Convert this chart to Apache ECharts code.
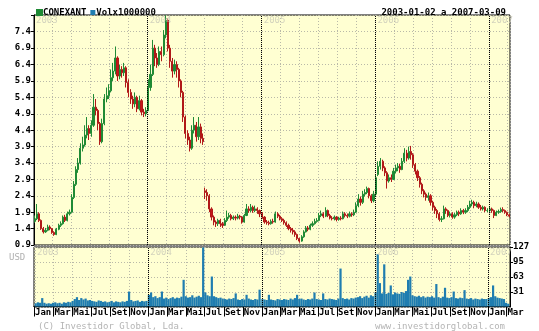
<!DOCTYPE html>
<html><head><meta charset="utf-8">
<script src="https://cdn.jsdelivr.net/npm/echarts@6/dist/echarts.min.js"></script>
<style>html,body{margin:0;padding:0;background:#fff}#c{width:539px;height:331px}</style>
</head><body><div id="c"></div>
<script>
const years = [2003, 2004, 2005, 2006, 2007];
const yearLabels = ['2003', '2004', '2005', '2006', '2007'];
const monthNames = ['Jan','Fev','Mar','Abr','Mai','Jun','Jul','Ago','Set','Out','Nov','Dez'];

// weekly [open, close, low, high]
const price2003 = [
[1.62,1.70,1.58,1.80],[1.70,1.85,1.66,2.15],[1.85,1.65,1.60,1.90],[1.65,1.40,1.36,1.68],
[1.40,1.30,1.25,1.45],[1.30,1.35,1.27,1.42],[1.35,1.45,1.32,1.52],[1.45,1.40,1.35,1.50],
[1.40,1.28,1.24,1.42],[1.28,1.22,1.18,1.32],[1.22,1.38,1.20,1.42],[1.38,1.50,1.35,1.55],
[1.50,1.55,1.45,1.62],[1.55,1.75,1.52,1.80],[1.75,1.65,1.60,1.82],[1.65,1.85,1.62,1.92],
[1.85,1.90,1.80,1.98],[1.90,2.35,1.88,2.45],[2.35,2.75,2.30,2.85],[2.75,3.20,2.70,3.30],
[3.20,3.40,3.10,3.55],[3.40,3.85,3.35,4.00],[3.85,3.95,3.75,4.20],[3.95,4.25,3.90,4.55],
[4.25,4.45,4.15,4.80],[4.45,4.30,4.10,4.55],[4.30,4.55,4.20,4.70],[4.55,5.10,4.50,5.50],
[5.10,5.00,4.85,5.35],[5.00,4.60,4.40,5.05],[4.60,4.05,3.95,4.65],[4.05,4.60,4.00,4.75],
[4.60,5.35,4.55,5.50],[5.35,5.45,5.25,5.70],[5.45,5.60,5.35,5.80],[5.60,6.00,5.55,6.25],
[6.00,6.20,5.90,6.45],[6.20,6.60,6.10,6.95],[6.60,6.05,5.90,6.65],[6.05,6.25,5.95,6.40],
[6.25,6.15,6.00,6.35],[6.15,6.30,6.05,6.45],[6.30,5.85,5.70,6.35],[5.85,5.55,5.40,5.95],
[5.55,5.35,5.20,5.65],[5.35,5.20,5.05,5.45],[5.20,5.40,5.10,5.55],[5.40,5.05,4.95,5.45],
[5.05,5.30,5.00,5.45],[5.30,4.95,4.85,5.35],[4.95,4.90,4.80,5.05],[4.90,5.00,4.82,5.10]
];
const price2004 = [
[5.00,5.70,4.98,5.95],[5.70,6.10,5.60,6.40],[6.10,6.90,6.05,7.15],[6.90,6.60,6.35,7.00],
[6.60,6.40,6.30,6.75],[6.40,6.80,6.35,6.95],[6.80,6.70,6.50,6.95],[6.70,7.30,6.65,7.45],
[7.30,7.75,7.20,7.90],[7.75,6.90,6.80,7.80],[6.90,6.50,6.30,7.00],[6.50,6.20,6.00,6.60],
[6.20,6.40,6.10,6.55],[6.40,6.25,6.00,6.50],[6.25,5.90,5.70,6.30],[5.90,5.55,5.40,5.95],
[5.55,4.80,4.65,5.60],[4.80,4.30,4.15,4.85],[4.30,4.10,3.95,4.40],[4.10,3.85,3.75,4.20],
[3.85,4.40,3.80,4.55],[4.40,4.55,4.30,4.80],[4.55,4.20,4.05,4.65],[4.20,4.50,4.10,4.80],
[4.50,4.15,4.00,4.60],[4.15,4.05,3.95,4.30],[2.55,2.50,2.30,2.65],[2.50,2.40,2.25,2.60],
[2.40,2.00,1.90,2.45],[2.00,1.75,1.65,2.05],[1.75,1.60,1.50,1.80],[1.60,1.55,1.45,1.65],
[1.55,1.65,1.48,1.70],[1.65,1.55,1.45,1.70],[1.55,1.50,1.42,1.60],[1.50,1.65,1.48,1.72],
[1.65,1.75,1.60,1.95],[1.75,1.80,1.70,1.88],[1.80,1.70,1.65,1.85],[1.70,1.75,1.66,1.80],
[1.75,1.72,1.65,1.80],[1.72,1.78,1.68,1.85],[1.78,1.75,1.68,1.82],[1.75,1.60,1.55,1.78],
[1.60,1.80,1.58,1.85],[1.80,2.00,1.78,2.15],[2.00,1.95,1.88,2.08],[1.95,2.05,1.90,2.15],
[2.05,1.95,1.88,2.10],[1.95,2.00,1.90,2.10],[2.00,1.95,1.85,2.05],[1.95,1.85,1.75,1.98]
];
const price2005 = [
[1.85,1.75,1.70,1.90],[1.75,1.60,1.55,1.78],[1.60,1.58,1.52,1.66],[1.58,1.55,1.50,1.64],
[1.55,1.62,1.52,1.68],[1.62,1.60,1.55,1.70],[1.60,1.85,1.58,1.92],[1.85,1.78,1.72,1.90],
[1.78,1.70,1.65,1.82],[1.70,1.65,1.60,1.75],[1.65,1.58,1.52,1.70],[1.58,1.50,1.45,1.62],
[1.50,1.40,1.35,1.55],[1.40,1.35,1.28,1.45],[1.35,1.30,1.22,1.42],[1.30,1.22,1.15,1.35],
[1.22,1.10,1.05,1.25],[1.10,1.02,0.97,1.12],[1.02,1.15,1.00,1.20],[1.15,1.30,1.12,1.35],
[1.30,1.42,1.28,1.48],[1.42,1.38,1.32,1.48],[1.38,1.50,1.35,1.55],[1.50,1.55,1.45,1.62],
[1.55,1.62,1.52,1.70],[1.62,1.65,1.58,1.72],[1.65,1.80,1.62,1.88],[1.80,1.85,1.75,1.95],
[1.85,1.78,1.72,1.90],[1.78,1.95,1.75,2.05],[1.95,1.80,1.75,1.98],[1.80,1.72,1.68,1.85],
[1.72,1.70,1.65,1.78],[1.70,1.75,1.65,1.80],[1.75,1.68,1.62,1.78],[1.68,1.72,1.64,1.76],
[1.72,1.70,1.65,1.78],[1.70,1.85,1.68,1.92],[1.85,1.80,1.74,1.90],[1.80,1.78,1.72,1.86],
[1.78,1.85,1.74,1.92],[1.85,1.82,1.76,1.90],[1.82,1.90,1.78,1.98],[1.90,2.10,1.88,2.20],
[2.10,2.30,2.05,2.45],[2.30,2.20,2.10,2.38],[2.20,2.45,2.15,2.55],[2.45,2.50,2.38,2.60],
[2.50,2.62,2.45,2.68],[2.62,2.40,2.32,2.65],[2.40,2.25,2.18,2.45],[2.25,2.45,2.20,2.55]
];
const price2006 = [
[2.45,2.95,2.40,3.05],[3.05,3.30,3.00,3.45],[3.30,3.45,3.20,3.55],[3.45,3.25,3.15,3.50],
[3.25,3.10,3.00,3.30],[3.10,2.85,2.62,3.15],[2.85,2.95,2.80,3.05],[2.95,2.90,2.82,3.05],
[2.90,3.15,2.88,3.25],[3.15,3.25,3.08,3.35],[3.25,3.30,3.15,3.40],[3.30,3.20,3.10,3.38],
[3.20,3.45,3.18,3.55],[3.45,3.70,3.40,3.85],[3.70,3.55,3.45,3.80],[3.55,3.75,3.50,3.90],
[3.75,3.65,3.50,3.92],[3.65,3.35,3.25,3.70],[3.35,3.15,3.05,3.40],[3.15,2.95,2.85,3.20],
[2.95,2.75,2.65,3.00],[2.75,2.55,2.45,2.80],[2.55,2.45,2.35,2.60],[2.45,2.35,2.25,2.50],
[2.35,2.40,2.25,2.50],[2.40,2.20,2.10,2.45],[2.20,2.05,1.95,2.25],[2.05,1.95,1.85,2.10],
[1.95,1.85,1.72,2.00],[1.85,1.68,1.62,1.90],[1.68,1.70,1.60,1.78],[1.70,2.00,1.68,2.10],
[2.00,1.95,1.85,2.05],[1.95,1.80,1.75,1.98],[1.80,1.85,1.74,1.92],[1.85,1.75,1.70,1.90],
[1.75,1.82,1.70,1.88],[1.82,1.90,1.78,1.95],[1.90,1.85,1.78,1.95],[1.85,1.95,1.82,2.02],
[1.95,1.90,1.84,2.00],[1.90,1.95,1.85,2.02],[1.95,2.05,1.90,2.12],[2.05,2.15,2.00,2.25],
[2.15,2.20,2.08,2.28],[2.20,2.10,2.02,2.25],[2.10,2.15,2.05,2.22],[2.15,2.05,2.00,2.20],
[2.05,2.00,1.95,2.12],[2.00,2.05,1.95,2.10],[2.05,1.95,1.90,2.08],[1.95,1.95,1.90,2.02]
];
const price2007 = [
[1.95,2.00,1.90,2.06],[2.00,1.95,1.88,2.04],[1.95,1.80,1.72,1.98],[1.80,1.90,1.78,1.95],
[1.90,1.92,1.85,1.98],[1.92,1.98,1.88,2.04],[1.98,1.95,1.90,2.05],[1.95,1.90,1.85,1.98],
[1.90,1.82,1.78,1.92],[1.82,1.78,1.74,1.85]
];

// weekly volume (millions)
const vol2003 = [7,9,8,18,8,6,7,6,8,9,7,8,6,9,8,10,9,12,16,20,14,18,15,17,13,14,12,11,10,13,12,10,11,9,10,12,9,11,10,9,11,10,12,32,14,11,12,13,10,12,11,12];
const vol2004 = [25,30,20,22,18,20,32,17,19,16,18,20,17,19,18,21,57,22,19,20,24,19,21,23,20,126,30,24,22,64,22,20,18,19,17,16,15,17,16,18,28,15,14,16,15,25,17,15,14,16,15,36];
const vol2005 = [16,15,14,25,15,14,13,16,15,14,16,15,14,17,15,18,25,16,17,15,14,16,15,17,30,16,15,14,28,16,15,17,16,15,14,17,81,18,16,17,15,18,17,19,20,22,18,21,23,19,24,22];
const vol2006 = [30,112,50,28,90,27,29,45,26,30,28,27,31,29,33,57,64,24,22,21,23,20,22,19,21,20,22,19,48,20,18,21,40,19,18,20,32,18,17,19,18,35,17,16,18,15,17,16,15,17,16,16];
const vol2007 = [18,20,45,22,19,18,17,16,8,6];

const priceByYear = [price2003, price2004, price2005, price2006, price2007];
const volByYear = [vol2003, vol2004, vol2005, vol2006, vol2007];

const candles = [], vols = [];
years.forEach((y, yi) => {
  priceByYear[yi].forEach((p, i) => {
    const t = Date.UTC(y, 0, 3 + 7 * i);
    candles.push([t, p[0], p[1], p[2], p[3]]);
    vols.push([t, volByYear[yi][i]]);
  });
});
const yearStarts = years.map(y => Date.UTC(y, 0, 1));
const xMin = Date.UTC(2003, 0, 1), xMax = Date.UTC(2007, 2, 9);
const pMin = 0.9, pMax = 7.91, vMin = -1, vMax = 127;

const FONT = 'DejaVu Sans Mono';
const gridLine = { show: true, lineStyle: { color: '#b9b9a8', type: [1, 2], width: 1 } };
const yearMark = {
  symbol: 'none', silent: true, label: { show: false },
  lineStyle: { color: '#000', type: [1, 1], width: 1 },
  data: yearStarts.slice(1).map(t => ({ xAxis: t }))
};
const yearLabelStyle = { show: true, position: [2, 1], formatter: p => p.data[2], color: '#c8c8b8', fontFamily: FONT, fontSize: 9 };

const chart = echarts.init(document.getElementById('c'), null, { renderer: 'canvas' });
chart.setOption({
  animation: false,
  backgroundColor: '#fff',
  textStyle: { fontFamily: FONT },
  title: [
    { text: '2003-01-02 a 2007-03-09', right: 28, top: 3, textStyle: { fontFamily: FONT, fontSize: 9, fontWeight: 'bold', color: '#000' } },
    { text: 'USD', left: 4, top: 248, textStyle: { fontFamily: FONT, fontSize: 9, fontWeight: 'normal', color: '#b0b0b0' } },
    { text: '(C) Investidor Global, Lda.', left: 33, top: 317, textStyle: { fontFamily: FONT, fontSize: 9, fontWeight: 'normal', color: '#b4b4b4' } },
    { text: 'www.investidorglobal.com', right: 29, top: 317, textStyle: { fontFamily: FONT, fontSize: 9, fontWeight: 'normal', color: '#b4b4b4' } }
  ],
  legend: {
    left: 31, top: 3, itemWidth: 5, itemHeight: 5, itemGap: 4, icon: 'rect',
    data: ['CONEXANT', 'Volx1000000'],
    textStyle: { fontFamily: FONT, fontSize: 9, fontWeight: 'bold', color: '#000', padding: [0, 0, 0, -4] }
  },
  grid: [
    { left: 34, top: 15, width: 476, height: 230, show: true, backgroundColor: '#ffffd2', borderColor: '#000', borderWidth: 1 },
    { left: 34, top: 247, width: 476, height: 60, show: true, backgroundColor: '#ffffd2', borderColor: '#000', borderWidth: 1 }
  ],
  xAxis: [
    { type: 'time', gridIndex: 0, min: xMin, max: xMax, splitNumber: 20,
      axisLine: { show: false }, axisTick: { show: false }, axisLabel: { show: false }, splitLine: gridLine },
    { type: 'time', gridIndex: 1, min: xMin, max: xMax, splitNumber: 20,
      axisLine: { show: true, lineStyle: { color: '#000' } },
      axisTick: { show: true, length: 10, lineStyle: { color: '#000' } },
      axisLabel: { show: true, align: 'left', margin: 1, padding: [0, 0, 0, 1], fontFamily: FONT, fontSize: 9, fontWeight: 'bold', color: '#000',
        hideOverlap: false, showMinLabel: true, showMaxLabel: false,
        formatter: v => monthNames[new Date(Math.max(v, xMin)).getUTCMonth()] },
      splitLine: gridLine }
  ],
  yAxis: [
    { type: 'value', gridIndex: 0, min: pMin, max: pMax, interval: 0.5,
      axisLine: { show: true, lineStyle: { color: '#000' } },
      axisTick: { show: true, length: 3, lineStyle: { color: '#000' } },
      axisLabel: { fontFamily: FONT, fontSize: 9, fontWeight: 'bold', color: '#000', margin: 3,
        formatter: v => (v > pMax - 0.2 ? '' : v.toFixed(1)) },
      splitLine: gridLine },
    { type: 'value', gridIndex: 1, position: 'right', min: vMin, max: vMax, interval: 32,
      axisLine: { show: true, lineStyle: { color: '#000' } },
      axisTick: { show: true, length: 3, lineStyle: { color: '#000' } },
      axisLabel: { fontFamily: FONT, fontSize: 9, fontWeight: 'bold', color: '#000', margin: 3, showMinLabel: false,
        formatter: v => (v < 0 ? '' : String(v)) },
      splitLine: gridLine }
  ],
  series: [
    { name: 'CONEXANT', type: 'candlestick', xAxisIndex: 0, yAxisIndex: 0,
      data: candles, encode: { x: 0, y: [1, 2, 3, 4] }, barWidth: '75%',
      itemStyle: { color: '#1f8a35', color0: '#c8161a', borderColor: '#1f8a35', borderColor0: '#b01818', borderWidth: 1 },
      markLine: yearMark },
    { name: 'Volx1000000', type: 'bar', xAxisIndex: 1, yAxisIndex: 1, data: vols, barWidth: 2.2,
      itemStyle: { color: '#1f7db0' }, markLine: yearMark },
    { type: 'scatter', xAxisIndex: 0, yAxisIndex: 0, symbolSize: 0, silent: true,
      data: yearStarts.map((t, i) => [t, pMax, yearLabels[i]]), label: yearLabelStyle },
    { type: 'scatter', xAxisIndex: 1, yAxisIndex: 1, symbolSize: 0, silent: true,
      data: yearStarts.map((t, i) => [t, vMax, yearLabels[i]]), label: yearLabelStyle }
  ]
});
</script></body></html>
